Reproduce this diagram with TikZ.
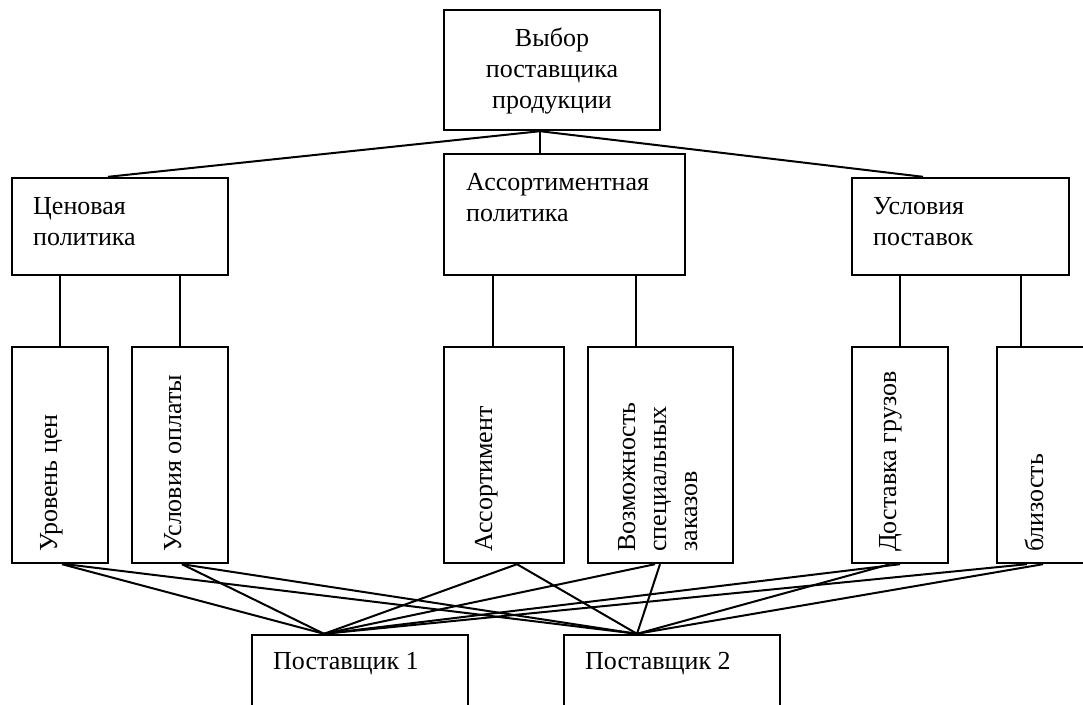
\documentclass[tikz,border=0pt]{standalone}
\usepackage{fontspec}
\setmainfont{Liberation Serif}
\begin{document}
\begin{tikzpicture}[x=1pt,y=-1pt,
  box/.style={draw, line width=2.4pt, inner sep=0pt},
  conn/.style={line width=2pt},
  txt/.style={inner sep=0pt, font=\fontsize{26}{31}\selectfont, align=left},
  rtxt/.style={txt, rotate=90, anchor=base west}]
\useasboundingbox (0,0) rectangle (1083,704);
\clip (0,0) rectangle (1083,704);
% boxes
\node[box, minimum width=216, minimum height=120] (top)  at (552,70) {};
\node[box, minimum width=216, minimum height=97]  (cen)  at (120,226.5) {};
\node[box, minimum width=241, minimum height=121] (asp)  at (564.5,214.5) {};
\node[box, minimum width=217, minimum height=97]  (usl)  at (960.5,226.5) {};
\node[box, minimum width=96,  minimum height=216] (lev)  at (60,455) {};
\node[box, minimum width=96,  minimum height=216] (pay)  at (180,455) {};
\node[box, minimum width=120, minimum height=216] (asr)  at (504,455) {};
\node[box, minimum width=145, minimum height=216] (spec) at (660.5,455) {};
\node[box, minimum width=96,  minimum height=216] (dost) at (900,455) {};
\node[box, minimum width=103, minimum height=216] (bliz) at (1048.5,455) {};
\node[box, minimum width=216, minimum height=85]  (p1)   at (360,677.5) {};
\node[box, minimum width=216, minimum height=85]  (p2)   at (672,677.5) {};
% texts (base anchor of a multi-line node = baseline of its last line)
\node[txt, align=center, anchor=base] (ttop) at (552,108) {Выбор\\поставщика\\продукции};
\node[txt, anchor=base west] (tcen) at (33,245) {Ценовая\\политика};
\node[txt, anchor=base west] (tasp) at (466,221) {Ассортиментная\\политика};
\node[txt, anchor=base west] (tusl) at (873,245) {Условия\\поставок};
\node[txt, anchor=base west] (tp1) at (273,669) {Поставщик 1};
\node[txt, anchor=base west] (tp2) at (585,669) {Поставщик 2};
\node[rtxt] (tlev) at (57,552) {Уровень цен};
\node[rtxt] (tpay) at (181,552) {Условия оплаты};
\node[rtxt] (tasr) at (492,552) {Ассортимент};
\node[rtxt] (tspec) at (697,552) {Возможность\\специальных\\заказов};
\node[rtxt] (tdost) at (896,552) {Доставка грузов};
\node[rtxt] (tbliz) at (1043,552) {близость};
% upper connectors
\draw[conn] ([xshift=-12]top.south) -- ([xshift=-12]cen.north);
\draw[conn] ([xshift=-12]top.south) -- ([xshift=-24.5]asp.north);
\draw[conn] ([xshift=-12]top.south) -- ([xshift=-37.5]usl.north);
\draw[conn] (lev.north |- cen.south) -- (lev.north);
\draw[conn] (pay.north |- cen.south) -- (pay.north);
\draw[conn] ([xshift=-71.5]asp.south) -- ([xshift=-11]asr.north);
\draw[conn] ([xshift=71.5]asp.south) -- ([xshift=-24.5]spec.north);
\draw[conn] ([xshift=-60.5]usl.south) -- (dost.north);
\draw[conn] ([xshift=60.5]usl.south) -- ([xshift=-27.5]bliz.north);
% lower connectors
\draw[conn] ([xshift=2]lev.south) -- ([xshift=-36]p1.north);
\draw[conn] ([xshift=6]lev.south) -- ([xshift=-35]p2.north);
\draw[conn] ([xshift=2]pay.south) -- ([xshift=-36]p1.north);
\draw[conn] ([xshift=2]pay.south) -- ([xshift=-35]p2.north);
\draw[conn] ([xshift=13]asr.south) -- ([xshift=-36]p1.north);
\draw[conn] ([xshift=13]asr.south) -- ([xshift=-35]p2.north);
\draw[conn] ([xshift=-5.5]spec.south) -- ([xshift=-36]p1.north);
\draw[conn] ([xshift=-0.5]spec.south) -- ([xshift=-35]p2.north);
\draw[conn] (dost.south) -- ([xshift=-36]p1.north);
\draw[conn] ([xshift=-10]dost.south) -- ([xshift=-35]p2.north);
\draw[conn] ([xshift=-21.5]bliz.south) -- ([xshift=-36]p1.north);
\draw[conn] ([xshift=-5.5]bliz.south) -- ([xshift=-35]p2.north);
\end{tikzpicture}
\end{document}
